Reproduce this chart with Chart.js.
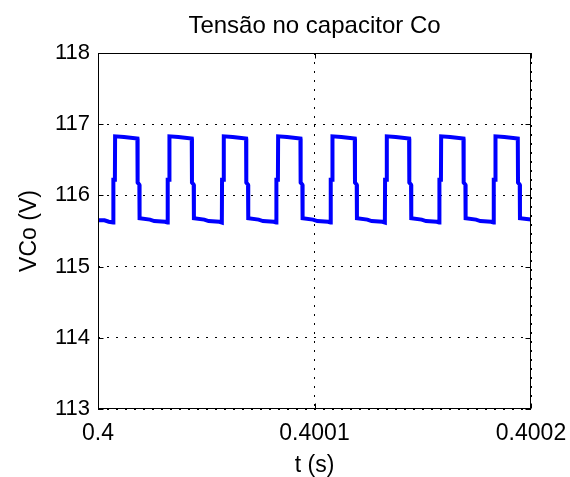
<!DOCTYPE html>
<html>
<head>
<meta charset="utf-8">
<script src="https://cdn.jsdelivr.net/npm/chart.js@4/dist/chart.umd.min.js"></script>
<style>
body{margin:0;background:#fff}
#grafico{display:block}
</style>
</head>
<body>
<canvas id="grafico" width="570" height="477"></canvas>
<script>
// tempo em microssegundos depois de t=0.4 s
let tempoUs=[
0,3,5,
7.0,7.1,7.8,7.9,12.0,18.2,18.3,19.1,19.2,24.0,26.0,31.0,
32.1,32.2,32.9,33.0,37.1,43.3,43.4,44.2,44.3,49.1,51.1,56.1,
57.2,57.3,58.0,58.1,62.2,68.4,68.5,69.3,69.4,74.2,76.2,81.2,
82.3,82.4,83.1,83.2,87.3,93.5,93.6,94.4,94.5,99.3,101.3,106.3,
107.4,107.5,108.2,108.3,112.4,118.6,118.7,119.5,119.6,124.4,126.4,131.4,
132.5,132.6,133.3,133.4,137.5,143.7,143.8,144.6,144.7,149.5,151.5,156.5,
157.6,157.7,158.4,158.5,162.6,168.8,168.9,169.7,169.8,174.6,176.6,181.6,
182.7,182.8,183.5,183.6,187.7,193.9,194.0,194.8,194.9,200.0
]
let vco=[
115.65,115.65,115.63,
115.62,116.22,116.22,116.83,116.82,116.80,116.18,116.15,115.68,115.66,115.64,115.63,
115.62,116.22,116.22,116.83,116.82,116.80,116.18,116.15,115.68,115.66,115.64,115.63,
115.62,116.22,116.22,116.83,116.82,116.80,116.18,116.15,115.68,115.66,115.64,115.63,
115.62,116.22,116.22,116.83,116.82,116.80,116.18,116.15,115.68,115.66,115.64,115.63,
115.62,116.22,116.22,116.83,116.82,116.80,116.18,116.15,115.68,115.66,115.64,115.63,
115.62,116.22,116.22,116.83,116.82,116.80,116.18,116.15,115.68,115.66,115.64,115.63,
115.62,116.22,116.22,116.83,116.82,116.80,116.18,116.15,115.68,115.66,115.64,115.63,
115.62,116.22,116.22,116.83,116.82,116.80,116.18,116.15,115.68,115.66
]
let ticksX=[0.4,0.4001,0.4002]
let rotulosX=['0.4','0.4001','0.4002']
let ticksY=[113,114,115,116,117,118]
let titulo='Tensão no capacitor Co'

let fonte='"Liberation Sans", Arial, sans-serif'

let pontos=tempoUs.map((t,i)=>({x:0.4+t*1e-6,y:vco[i]}))

// caixa preta, ticks para dentro e titulo centrado na area do grafico
let caixa={
id:'caixa',
afterDraw(chart){
let ctx=chart.ctx
let a=chart.chartArea
let l=Math.round(a.left)+0.5
let r=Math.round(a.right)-0.5
let t=Math.round(a.top)+0.5
let b=Math.round(a.bottom)-0.5
ctx.save()
ctx.strokeStyle='#000'
ctx.lineWidth=1
ctx.strokeRect(l,t,r-l,b-t)
ctx.beginPath()
ticksX.forEach(v=>{
let x=Math.round(chart.scales.x.getPixelForValue(v))+0.5
ctx.moveTo(x,b);ctx.lineTo(x,b-5)
ctx.moveTo(x,t);ctx.lineTo(x,t+5)
})
ticksY.forEach(v=>{
let y=Math.round(chart.scales.y.getPixelForValue(v))+0.5
ctx.moveTo(l,y);ctx.lineTo(l+5,y)
ctx.moveTo(r,y);ctx.lineTo(r-5,y)
})
ctx.stroke()
ctx.fillStyle='#000'
ctx.font='24px '+fonte
ctx.textAlign='center'
ctx.textBaseline='alphabetic'
ctx.fillText(titulo,(a.left+a.right)/2,33)
ctx.restore()
}
}

new Chart(document.getElementById('grafico'),{
type:'line',
data:{
datasets:[{
data:pontos,
borderColor:'#0000ff',
borderWidth:4,
pointRadius:0,
tension:0,
fill:false
}]
},
options:{
responsive:false,
animation:false,
layout:{padding:{left:0,right:39,top:53,bottom:0}},
plugins:{
legend:{display:false},
tooltip:{enabled:false},
title:{display:false}
},
scales:{
x:{
type:'linear',
min:0.4,
max:0.4002,
afterBuildTicks:s=>{s.ticks=ticksX.map(v=>({value:v}))},
afterFit:s=>{
s.height=68
s.paddingLeft=0
s.paddingRight=0
},
ticks:{
color:'#000',
padding:11,
font:{family:fonte,size:23},
callback:(v,i)=>rotulosX[i]
},
grid:{color:'#000',lineWidth:1,drawTicks:false},
border:{display:false,dash:[2,7]},
title:{
display:true,
text:'t (s)',
color:'#000',
font:{family:fonte,size:23,lineHeight:1},
padding:{top:0,bottom:0}
}
},
y:{
min:113,
max:118,
afterBuildTicks:s=>{s.ticks=ticksY.map(v=>({value:v}))},
afterFit:s=>{
s.width=98
s.paddingTop=0
s.paddingBottom=0
},
ticks:{
color:'#000',
padding:8,
font:{family:fonte,size:22},
callback:v=>String(v)
},
grid:{color:'#000',lineWidth:1,drawTicks:false},
border:{display:false,dash:[2,7]},
title:{
display:true,
text:'VCo (V)',
color:'#000',
font:{family:fonte,size:23,lineHeight:1},
padding:{top:18,bottom:0}
}
}
}
},
plugins:[caixa]
})
</script>
</body>
</html>
